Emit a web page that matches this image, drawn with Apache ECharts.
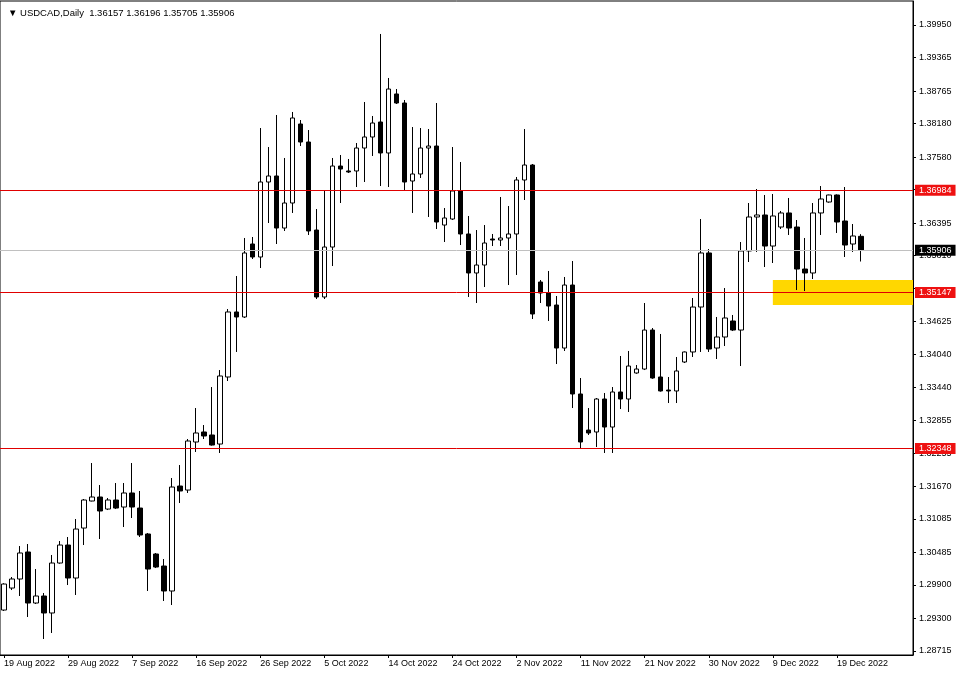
<!DOCTYPE html>
<html><head><meta charset="utf-8">
<script src="https://cdn.jsdelivr.net/npm/echarts@6/dist/echarts.min.js"></script>
<style>html,body{margin:0;padding:0;background:#fff}#c{width:960px;height:675px}</style>
</head><body><div id="c"></div>
<script>
const symbol = 'USDCAD,Daily';
const dates = [
'19 Aug 2022','21 Aug 2022','22 Aug 2022','23 Aug 2022','24 Aug 2022','25 Aug 2022','26 Aug 2022','28 Aug 2022',
'29 Aug 2022','30 Aug 2022','31 Aug 2022','1 Sep 2022','2 Sep 2022','4 Sep 2022','5 Sep 2022','6 Sep 2022',
'7 Sep 2022','8 Sep 2022','9 Sep 2022','11 Sep 2022','12 Sep 2022','13 Sep 2022','14 Sep 2022','15 Sep 2022',
'16 Sep 2022','18 Sep 2022','19 Sep 2022','20 Sep 2022','21 Sep 2022','22 Sep 2022','23 Sep 2022','25 Sep 2022',
'26 Sep 2022','27 Sep 2022','28 Sep 2022','29 Sep 2022','30 Sep 2022','2 Oct 2022','3 Oct 2022','4 Oct 2022',
'5 Oct 2022','6 Oct 2022','7 Oct 2022','9 Oct 2022','10 Oct 2022','11 Oct 2022','12 Oct 2022','13 Oct 2022',
'14 Oct 2022','16 Oct 2022','17 Oct 2022','18 Oct 2022','19 Oct 2022','20 Oct 2022','21 Oct 2022','23 Oct 2022',
'24 Oct 2022','25 Oct 2022','26 Oct 2022','27 Oct 2022','28 Oct 2022','30 Oct 2022','31 Oct 2022','1 Nov 2022',
'2 Nov 2022','3 Nov 2022','4 Nov 2022','6 Nov 2022','7 Nov 2022','8 Nov 2022','9 Nov 2022','10 Nov 2022',
'11 Nov 2022','13 Nov 2022','14 Nov 2022','15 Nov 2022','16 Nov 2022','17 Nov 2022','18 Nov 2022','20 Nov 2022',
'21 Nov 2022','22 Nov 2022','23 Nov 2022','24 Nov 2022','25 Nov 2022','27 Nov 2022','28 Nov 2022','29 Nov 2022',
'30 Nov 2022','1 Dec 2022','2 Dec 2022','4 Dec 2022','5 Dec 2022','6 Dec 2022','7 Dec 2022','8 Dec 2022',
'9 Dec 2022','11 Dec 2022','12 Dec 2022','13 Dec 2022','14 Dec 2022','15 Dec 2022','16 Dec 2022','18 Dec 2022',
'19 Dec 2022','20 Dec 2022','21 Dec 2022','22 Dec 2022'
];
const opens = [
1.29449,1.29844,1.30006,1.30491,1.29575,1.29701,1.29396,1.30293,
1.30616,1.30024,1.30921,1.31406,1.31478,1.31262,1.31424,1.31298,
1.31550,1.31280,1.30814,1.30455,1.30239,1.29791,1.31675,1.31603,
1.32465,1.32645,1.32591,1.32429,1.33632,1.34799,1.34709,1.36019,
1.35786,1.37132,1.37240,1.36306,1.36755,1.38173,1.37850,1.36270,
1.35068,1.35965,1.37419,1.37330,1.37330,1.37742,1.37940,1.38209,
1.37653,1.38712,1.38550,1.37150,1.37276,1.37742,1.37778,1.36360,
1.36468,1.36971,1.36199,1.35499,1.35642,1.36109,1.36091,1.36127,
1.36199,1.37168,1.37437,1.35337,1.35140,1.34924,1.34152,1.35283,
1.33327,1.32680,1.32645,1.33237,1.32734,1.33363,1.33237,1.33704,
1.33775,1.34475,1.33632,1.33398,1.33381,1.33901,1.34081,1.34888,
1.35858,1.34152,1.34350,1.34637,1.34475,1.35894,1.36504,1.36540,
1.35983,1.36324,1.36576,1.36324,1.35570,1.35499,1.36576,1.36773,
1.36899,1.36432,1.36019,1.36157
];
const highs = [
1.29930,1.30042,1.30598,1.30634,1.30185,1.29755,1.30437,1.30688,
1.30760,1.31083,1.31442,1.32088,1.31693,1.31460,1.31729,1.31729,
1.32088,1.31586,1.30832,1.30473,1.30365,1.31819,1.32052,1.32519,
1.33075,1.32770,1.33452,1.33757,1.34852,1.35445,1.36127,1.36145,
1.38101,1.37760,1.38335,1.37563,1.38389,1.38245,1.38065,1.36647,
1.36971,1.37563,1.37617,1.37545,1.37832,1.38568,1.38317,1.39789,
1.38999,1.38801,1.38604,1.38119,1.38101,1.38083,1.38550,1.36665,
1.37760,1.37491,1.36522,1.36270,1.36360,1.36199,1.36863,1.36701,
1.37222,1.38083,1.37455,1.35373,1.35535,1.35086,1.35427,1.35714,
1.33614,1.33075,1.33255,1.33345,1.33452,1.34009,1.34099,1.33847,
1.34960,1.34511,1.34404,1.33632,1.33991,1.34090,1.35050,1.36468,
1.35929,1.34709,1.35229,1.34745,1.36055,1.36755,1.37006,1.36899,
1.36917,1.36612,1.36845,1.36450,1.36127,1.36755,1.37060,1.36905,
1.36910,1.37042,1.36378,1.36196
];
const lows = [
1.29432,1.29808,1.29701,1.29324,1.29557,1.28929,1.29037,1.30280,
1.29898,1.29719,1.30616,1.31400,1.30724,1.31244,1.31262,1.30939,
1.31101,1.30760,1.29791,1.30203,1.29611,1.29539,1.31370,1.31550,
1.32286,1.32519,1.32400,1.32268,1.33560,1.34081,1.34691,1.35750,
1.35588,1.36396,1.36019,1.36253,1.36576,1.37778,1.36181,1.35032,
1.35032,1.35624,1.36755,1.37294,1.37042,1.37132,1.37599,1.37060,
1.37042,1.38532,1.36971,1.36576,1.37204,1.36504,1.36288,1.36055,
1.36450,1.36001,1.35068,1.34960,1.35247,1.35983,1.35983,1.35283,
1.35463,1.36809,1.34673,1.34960,1.34637,1.33865,1.34099,1.33075,
1.32357,1.32591,1.32375,1.32268,1.32268,1.33057,1.33004,1.33690,
1.33757,1.33600,1.33370,1.33165,1.33165,1.33883,1.33991,1.34081,
1.34081,1.33955,1.34188,1.34457,1.33829,1.35696,1.35876,1.35606,
1.35678,1.36288,1.36181,1.35193,1.35175,1.35391,1.36181,1.36760,
1.36217,1.35786,1.35876,1.35705
];
const closes = [
1.29916,1.30006,1.30473,1.29575,1.29701,1.29396,1.30293,1.30616,
1.30024,1.30903,1.31424,1.31478,1.31227,1.31424,1.31280,1.31550,
1.31298,1.30796,1.30185,1.30221,1.29791,1.31657,1.31586,1.32483,
1.32627,1.32573,1.32411,1.33650,1.34799,1.34709,1.35858,1.35786,
1.37132,1.37240,1.36306,1.36755,1.38281,1.37850,1.36253,1.35068,
1.35965,1.37419,1.37365,1.37312,1.37742,1.37940,1.38191,1.37653,
1.38801,1.38550,1.37132,1.37276,1.37742,1.37778,1.36414,1.36486,
1.36971,1.36199,1.35499,1.35642,1.36037,1.36091,1.36127,1.36199,
1.37168,1.37437,1.34763,1.35140,1.34906,1.34152,1.35283,1.33327,
1.32465,1.32627,1.33237,1.32734,1.33363,1.33237,1.33829,1.33775,
1.34475,1.33614,1.33381,1.33381,1.33740,1.34081,1.34888,1.35858,
1.34134,1.34350,1.34691,1.34475,1.35894,1.36504,1.36540,1.35983,
1.36522,1.36576,1.36306,1.35570,1.35499,1.36576,1.36827,1.36899,
1.36414,1.36001,1.36163,1.35906
];
// axis ticks (all) and the labels that are visible (two are hidden under level boxes)
const yTicks = [1.39950,1.39365,1.38765,1.38180,1.37580,1.36995,1.36395,1.35810,1.35225,1.34625,
  1.34040,1.33440,1.32855,1.32255,1.31670,1.31085,1.30485,1.29900,1.29300,1.28715];
const yLabels = [1.39950,1.39365,1.38765,1.38180,1.37580,1.36395,1.35810,1.34625,
  1.34040,1.33440,1.32855,1.32255,1.31670,1.31085,1.30485,1.29900,1.29300,1.28715];
const levels = [1.36984, 1.35147, 1.32348];
const bid = 1.35906;
const zoneFrom = '9 Dec 2022';
const zoneTop = 1.35373;
const zoneBottom = 1.34924;
const yMin = 1.28642, yMax = 1.40381;
const padCount = 6;

const FONT = '"Liberation Sans", Arial, sans-serif';
const cats = dates.concat(Array.from({length: padCount}, (_, i) => ' '.repeat(i + 1)));
const ohlc = dates.map((d, i) => [opens[i], closes[i], lows[i], highs[i]]);
const last = dates.length - 1;
const header = '\u25BC ' + symbol + '  ' + [opens[last], highs[last], lows[last], closes[last]].map(v => v.toFixed(5)).join(' ');
const showIdx = (i) => i % 8 === 0 && i < dates.length;

const chart = echarts.init(document.getElementById('c'), null, {renderer: 'canvas'});
chart.setOption({
  animation: false,
  backgroundColor: '#fff',
  title: {text: header, left: 3, top: 3, textStyle: {fontSize: 9.5, fontWeight: 'normal', color: '#000', fontFamily: FONT}},
  grid: {left: 0, right: 47, top: 1, bottom: 20, show: true, borderColor: '#000', borderWidth: 1, backgroundColor: 'transparent'},
  xAxis: {
    type: 'category', data: cats, boundaryGap: true,
    axisLine: {show: true, lineStyle: {color: '#000', width: 1}},
    axisTick: {show: true, interval: showIdx, alignWithLabel: true, length: 3, lineStyle: {color: '#000'}},
    axisLabel: {interval: showIdx, align: 'left', margin: 4, fontSize: 9, color: '#000', fontFamily: FONT},
    splitLine: {show: false}
  },
  yAxis: {
    type: 'value', position: 'right', min: yMin, max: yMax, scale: true,
    axisLine: {show: true, lineStyle: {color: '#000', width: 1}},
    axisTick: {show: true, customValues: yTicks, length: 3, lineStyle: {color: '#000'}},
    axisLabel: {customValues: yLabels, formatter: v => v.toFixed(5), margin: 6, fontSize: 9, color: '#000', fontFamily: FONT},
    splitLine: {show: false}
  },
  series: [
    {
      type: 'line', data: [], z: 1, silent: true,
      markArea: {
        silent: true,
        itemStyle: {color: '#ffd700'},
        data: [[{xAxis: zoneFrom, yAxis: zoneTop}, {yAxis: zoneBottom}]]
      }
    },
    {
      type: 'candlestick', data: ohlc, z: 2, barWidth: 5,
      itemStyle: {color: '#fff', color0: '#000', borderColor: '#000', borderColor0: '#000', borderWidth: 1}
    },
    {
      type: 'line', data: [], z: 3, silent: true,
      markLine: {
        symbol: 'none', silent: true, precision: 5,
        label: {show: true, position: 'end', formatter: '{b}', color: '#fff', fontSize: 9, fontFamily: FONT, padding: [1, 4, 1, 4], distance: 2},
        data: levels.map(v => ({name: v.toFixed(5), yAxis: v, lineStyle: {color: '#e00000', width: 1, type: 'solid'}, label: {backgroundColor: '#ee1111'}}))
          .concat([{name: bid.toFixed(5), yAxis: bid, lineStyle: {color: '#c0c0c0', width: 1, type: 'solid'}, label: {backgroundColor: '#000'}}])
      }
    }
  ]
});
</script></body></html>
